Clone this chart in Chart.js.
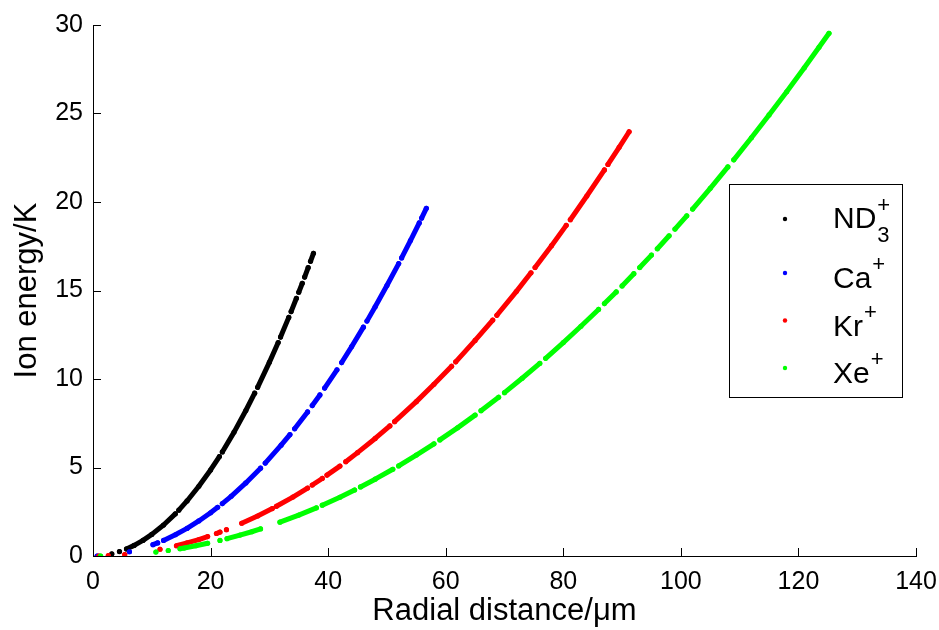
<!DOCTYPE html>
<html>
<head>
<meta charset="utf-8">
<script src="https://cdn.jsdelivr.net/npm/chart.js@4.4.0/dist/chart.umd.min.js"></script>
<style>
html, body { margin: 0; padding: 0; background: #fff; }
#wrap { width: 939px; height: 630px; }
</style>
</head>
<body>
<div id="wrap"><canvas id="chart" width="939" height="630"></canvas></div>
<script>
// values, null = gap in the dotted trace
const ndX = [3.2, null, 4.5, null, 5.7, 7.0, 8.5, 10, 12, 14, null, 14.6, 16, 18, 20, 21.5, null, 22.0, 24, 26, 27.5, null, 28.0, 30, 31.5, null, 31.9, 33.3, null, 33.7, 34.6, null, 35.0, 35.6, null, 36.0, 36.6, null, 37.0, 37.5];
const ndY = [0.12, null, 0.25, null, 0.40, 0.60, 0.88, 1.22, 1.75, 2.38, null, 2.59, 3.11, 3.94, 4.86, 5.62, null, 5.88, 7.00, 8.22, 9.20, null, 9.53, 10.94, 12.06, null, 12.37, 13.48, null, 13.81, 14.56, null, 14.90, 15.41, null, 15.76, 16.29, null, 16.65, 17.10];

const caX = [0.7, null, 6.2, null, 10.2, 11.0, null, 12.0, 14, 16, 18, 20, 21.2, null, 22.0, 23.5, 26, 28.5, null, 29.3, 32, 33.5, null, 34.3, 36.5, null, 37.3, 38.6, null, 39.4, 41.5, null, 42.3, 44, 46, null, 46.6, 48, 50, 52, null, 52.5, 54, 55.5, null, 55.9, 56.7];
const caY = [0.0, null, 0.24, null, 0.64, 0.74, null, 0.88, 1.20, 1.56, 1.98, 2.44, 2.75, null, 2.96, 3.37, 4.13, 4.96, null, 5.25, 6.26, 6.86, null, 7.19, 8.14, null, 8.50, 9.10, null, 9.49, 10.52, null, 10.93, 11.83, 12.93, null, 13.27, 14.08, 15.28, 16.52, null, 16.84, 17.82, 18.82, null, 19.09, 19.64];

const krX = [1.0, null, 2.6, null, 5.4, null, 11.4, null, 14.2, 16, 18, 19.5, null, 21.0, 21.6, null, 22.7, null, 25.3, 28, 30.5, null, 31.2, 34, 36.5, null, 37.3, 39, null, 39.8, 42, null, 43.0, 45, 48, 50.5, null, 51.3, 55, 58, 61, null, 61.7, 65, 68, null, 68.7, 72, 74.5, null, 75.2, 78, 80.5, null, 81.2, 84, 87, null, 87.6, 89.5, 91.2];
const krY = [0.0, null, 0.02, null, 0.08, null, 0.38, null, 0.58, 0.74, 0.93, 1.10, null, 1.27, 1.35, null, 1.49, null, 1.85, 2.26, 2.68, null, 2.81, 3.33, 3.84, null, 4.01, 4.38, null, 4.57, 5.08, null, 5.33, 5.84, 6.64, 7.35, null, 7.59, 8.72, 9.70, 10.72, null, 10.97, 12.18, 13.33, null, 13.60, 14.94, 16.00, null, 16.30, 17.53, 18.68, null, 19.00, 20.34, 21.81, null, 22.12, 23.09, 23.97];

const xeX = [1.3, null, 10.7, null, 12.8, null, 14.8, 15.5, 17.5, 19.5, null, 21.6, null, 22.8, 25, 27, 28.5, null, 31.8, 35, 38, null, 39, 42, 44.5, null, 45.5, 48, 51, null, 52, 55, 58, null, 59, 62, 65, null, 66, 69, null, 70, 73, 76, null, 77, 80, 83, 86, null, 87, 89, null, 90, 92, null, 93, 95, null, 96, 98, null, 99, 101, null, 102, 105, 108, null, 109, 112, 115, 118, 121, 123.5, 125.2];
const xeY = [0.0, null, 0.22, null, 0.31, null, 0.41, 0.45, 0.58, 0.72, null, 0.88, null, 0.98, 1.18, 1.37, 1.53, null, 1.91, 2.31, 2.72, null, 2.87, 3.32, 3.73, null, 3.90, 4.34, 4.90, null, 5.09, 5.70, 6.34, null, 6.56, 7.24, 7.96, null, 8.21, 8.97, null, 9.23, 10.04, 10.88, null, 11.17, 12.06, 12.98, 13.93, null, 14.26, 14.92, null, 15.26, 15.95, null, 16.30, 17.00, null, 17.36, 18.09, null, 18.47, 19.22, null, 19.60, 20.77, 21.98, null, 22.38, 23.63, 24.92, 26.23, 27.58, 28.74, 29.53];

const xTicks = [0, 20, 40, 60, 80, 100, 120, 140];
const yTicks = [0, 5, 10, 15, 20, 25, 30];

const seriesNames = ["ND", "Ca", "Kr", "Xe"];
const seriesSub = ["3", "", "", ""];
const seriesSup = ["+", "+", "+", "+"];
const seriesColors = ["#000000", "#0000ff", "#ff0000", "#00ff00"];

const fontFamily = "'Liberation Sans', Arial, Helvetica, sans-serif";
Chart.defaults.font.family = fontFamily;
Chart.defaults.color = "#000";

function toPoints(xs, ys) {
    return xs.map(function (x, i) {
        return { x: x, y: ys[i] };
    });
}

function makeSet(xs, ys, i) {
    return {
        label: seriesNames[i] + seriesSub[i] + seriesSup[i],
        data: toPoints(xs, ys),
        showLine: true,
        spanGaps: false,
        borderColor: seriesColors[i],
        backgroundColor: seriesColors[i],
        borderWidth: 5,
        borderCapStyle: "round",
        borderJoinStyle: "round",
        pointRadius: 2.6,
        pointBorderWidth: 0,
        pointHoverRadius: 2.6,
        tension: 0,
        order: 4 - i,
    };
}

// MATLAB style ticks pointing into the plot
const inwardTicks = {
    id: "inwardTicks",
    afterDraw(chart) {
        const ctx = chart.ctx;
        const a = chart.chartArea;
        const xs = chart.scales.x;
        const ys = chart.scales.y;
        ctx.save();
        ctx.strokeStyle = "#000";
        ctx.lineWidth = 1;
        ctx.beginPath();
        xs.ticks.forEach(function (t) {
            const px = Math.round(xs.getPixelForValue(t.value)) + 0.5;
            ctx.moveTo(px, a.bottom);
            ctx.lineTo(px, a.bottom - 8);
        });
        ys.ticks.forEach(function (t) {
            const py = Math.round(ys.getPixelForValue(t.value)) + 0.5;
            ctx.moveTo(a.left, py);
            ctx.lineTo(a.left + 8, py);
        });
        ctx.stroke();
        ctx.restore();
    },
};

// boxed legend with sub/superscripts
const legendBox = {
    id: "legendBox",
    afterDraw(chart) {
        const ctx = chart.ctx;
        const box = { x: 729.5, y: 184.5, w: 173, h: 213 };
        const markerX = 785;
        const markerY = [219, 273, 320.5, 368];
        const baseY = [228, 288, 335.5, 383];
        const textX = 833;
        ctx.save();
        ctx.fillStyle = "#fff";
        ctx.fillRect(box.x, box.y, box.w, box.h);
        ctx.strokeStyle = "#000";
        ctx.lineWidth = 1;
        ctx.strokeRect(box.x, box.y, box.w, box.h);
        ctx.textAlign = "left";
        ctx.textBaseline = "alphabetic";
        seriesNames.forEach(function (name, i) {
            ctx.fillStyle = seriesColors[i];
            ctx.beginPath();
            ctx.arc(markerX, markerY[i], 2.2, 0, Math.PI * 2);
            ctx.fill();
            ctx.fillStyle = "#000";
            ctx.font = "30px " + fontFamily;
            ctx.fillText(name, textX, baseY[i]);
            const w = ctx.measureText(name).width;
            ctx.font = "22px " + fontFamily;
            if (seriesSub[i]) {
                ctx.fillText(seriesSub[i], textX + w + 1, baseY[i] + 14);
                ctx.fillText(seriesSup[i], textX + w + 1, baseY[i] - 16);
            } else {
                ctx.fillText(seriesSup[i], textX + w + 1, baseY[i] - 17);
            }
        });
        ctx.restore();
    },
};

const ctx = document.getElementById("chart").getContext("2d");

new Chart(ctx, {
    type: "scatter",
    data: {
        datasets: [
            makeSet(ndX, ndY, 0),
            makeSet(caX, caY, 1),
            makeSet(krX, krY, 2),
            makeSet(xeX, xeY, 3),
        ],
    },
    options: {
        responsive: false,
        animation: false,
        devicePixelRatio: 1,
        layout: {
            padding: { top: 25, right: 23, bottom: 0, left: 0 },
        },
        plugins: {
            legend: { display: false },
            tooltip: { enabled: false },
        },
        scales: {
            x: {
                type: "linear",
                min: 0,
                max: 140,
                afterBuildTicks: function (s) {
                    s.ticks = xTicks.map(function (v) { return { value: v }; });
                },
                ticks: {
                    font: { size: 25 },
                    color: "#000",
                    padding: 11,
                    maxRotation: 0,
                },
                grid: { display: true, drawOnChartArea: false, drawTicks: false },
                border: { display: true, color: "#000", width: 1 },
                title: {
                    display: true,
                    text: "Radial distance/\u03bcm",
                    font: { size: 31 },
                    color: "#000",
                    padding: { top: 0, bottom: 0 },
                },
                afterFit: function (s) {
                    s.height = 74;
                    s.paddingLeft = 0;
                    s.paddingRight = 0;
                },
            },
            y: {
                type: "linear",
                min: 0,
                max: 30,
                afterBuildTicks: function (s) {
                    s.ticks = yTicks.map(function (v) { return { value: v }; });
                },
                ticks: {
                    font: { size: 25 },
                    color: "#000",
                    padding: 10,
                },
                grid: { display: true, drawOnChartArea: false, drawTicks: false },
                border: { display: true, color: "#000", width: 1 },
                title: {
                    display: true,
                    text: "Ion energy/K",
                    font: { size: 31 },
                    color: "#000",
                    padding: { top: 9, bottom: 0 },
                },
                afterFit: function (s) {
                    s.width = 93;
                    s.paddingTop = 0;
                    s.paddingBottom = 0;
                },
            },
        },
    },
    plugins: [inwardTicks, legendBox],
});
</script>
</body>
</html>
